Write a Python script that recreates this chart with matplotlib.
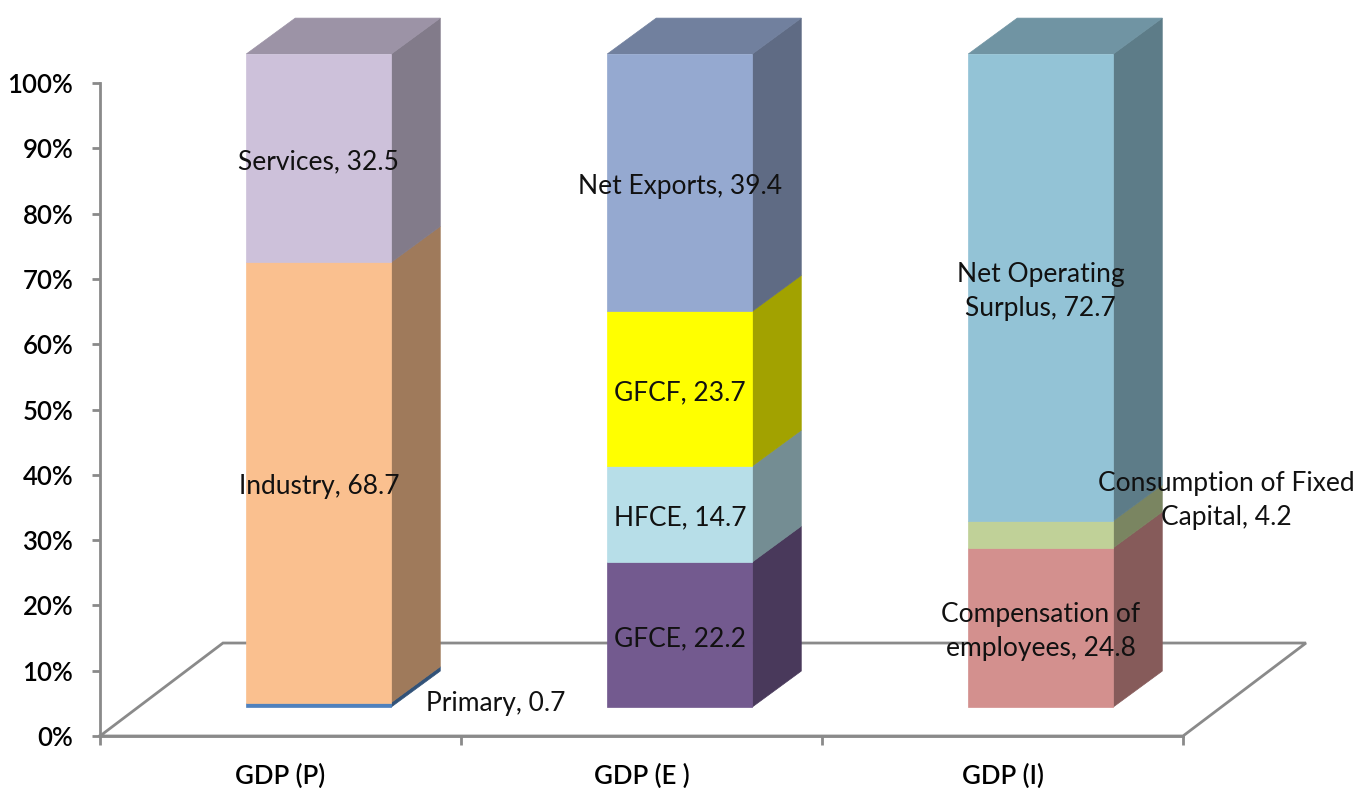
import matplotlib
matplotlib.use("Agg")
import matplotlib.pyplot as plt
from matplotlib.patches import Polygon
from matplotlib.colors import to_rgb
from matplotlib.ticker import FuncFormatter, FixedLocator

# ---------------- data ----------------
categories = ["GDP (P)", "GDP (E )", "GDP (I)"]

p_labels = ["Primary", "Industry", "Services"]
p_values = [0.7, 68.7, 32.5]
p_colors = ["#4F81BD", "#FAC08F", "#CDC1DA"]

e_labels = ["GFCE", "HFCE", "GFCF", "Net Exports"]
e_values = [22.2, 14.7, 23.7, 39.4]
e_colors = ["#735A8F", "#B7DEE8", "#FFFF00", "#95A9D0"]

i_labels = ["Compensation of\nemployees", "Consumption of Fixed\nCapital", "Net Operating\nSurplus"]
i_values = [24.8, 4.2, 72.7]
i_colors = ["#D3908E", "#C0D198", "#93C3D6"]

series_labels = [p_labels, e_labels, i_labels]
series_values = [p_values, e_values, i_values]
series_colors = [p_colors, e_colors, i_colors]

# label offsets in pixels for labels Excel moved off the bar
label_offsets = {("GDP (P)", "Primary"): (177, 5),
                 ("GDP (I)", "Consumption of Fixed\nCapital"): (186, 38)}

plt.rcParams['font.family'] = ['Lato', 'DejaVu Sans']

fig = plt.figure(figsize=(13.6, 7.88), dpi=100)
ax = fig.add_axes([100 / 1360, 52 / 788, 1083 / 1360, 653 / 788])
ax.set_xlim(-0.5, 2.5)
ax.set_ylim(0, 100)
ax.patch.set_visible(False)

grey = "#8A8A8A"
lw = 2.0

# 3-D pseudo projection parameters (in data units)
floor_dx, floor_dy = 0.3407, 14.24
front_dx, front_dy = 0.106, 4.44
depth_dx, depth_dy = 0.1357, 5.5
bar_w = 0.4017
side_f, top_f = 0.635, 0.76


def shade(c, f):
    r, g, b = to_rgb(c)
    return (r * f, g * f, b * f)


# floor outline
xs = [-0.5, 2.5, 2.5 + floor_dx, -0.5 + floor_dx, -0.5]
ys = [0, 0, floor_dy, floor_dy, 0]
ax.plot(xs, ys, color=grey, lw=lw, clip_on=False, zorder=1, solid_joinstyle='miter')

# spines / ticks
for s in ["top", "right"]:
    ax.spines[s].set_visible(False)
for s in ["left", "bottom"]:
    ax.spines[s].set_color(grey)
    ax.spines[s].set_linewidth(lw)

ax.yaxis.set_major_locator(FixedLocator(list(range(0, 101, 10))))
ax.yaxis.set_major_formatter(FuncFormatter(lambda v, p: f"{v:.0f}%"))
ax.tick_params(axis='y', which='major', direction='out', length=5.8, width=lw,
               color=grey, labelsize=18.5, labelcolor='black', pad=13.5)
for t in ax.get_yticklabels():
    t.set_fontweight('semibold')

ax.xaxis.set_major_locator(FixedLocator([0, 1, 2]))
ax.set_xticklabels(categories)
ax.xaxis.set_minor_locator(FixedLocator([-0.5, 0.5, 1.5, 2.5]))
ax.tick_params(axis='x', which='major', length=0, labelsize=18.5, labelcolor='black', pad=20)
ax.tick_params(axis='x', which='minor', direction='out', length=6.5, width=lw, color=grey)
for t in ax.get_xticklabels():
    t.set_fontweight('semibold')

# bars
for ci, cat in enumerate(categories):
    vals = series_values[ci]
    total = sum(vals)
    base = 0.0
    n = len(vals)
    for si, (lab, v, col) in enumerate(zip(series_labels[ci], vals, series_colors[ci])):
        h = v / total * 100.0
        x0 = ci - bar_w / 2 + front_dx
        x1 = ci + bar_w / 2 + front_dx
        y0 = base + front_dy
        y1 = base + h + front_dy
        front = [(x0, y0), (x1, y0), (x1, y1), (x0, y1)]
        side = [(x1, y0), (x1 + depth_dx, y0 + depth_dy), (x1 + depth_dx, y1 + depth_dy), (x1, y1)]
        ax.add_patch(Polygon(side, closed=True, facecolor=shade(col, side_f),
                             edgecolor=shade(col, side_f), lw=0.5, zorder=3, clip_on=False))
        ax.add_patch(Polygon(front, closed=True, facecolor=col, edgecolor=col,
                             lw=0.5, zorder=4, clip_on=False))
        if si == n - 1:
            top = [(x0, y1), (x1, y1), (x1 + depth_dx, y1 + depth_dy), (x0 + depth_dx, y1 + depth_dy)]
            ax.add_patch(Polygon(top, closed=True, facecolor=shade(col, top_f),
                                 edgecolor=shade(col, top_f), lw=0.5, zorder=3, clip_on=False))
        # data label
        ox, oy = label_offsets.get((cat, lab), (0, 0))
        ax.annotate(f"{lab}, {v}", xy=(ci + front_dx, base + h / 2 + front_dy),
                    xytext=(ox, oy - 4), textcoords='offset pixels',
                    ha='center', va='center', multialignment='center',
                    fontsize=19, color='#111111', linespacing=1.45,
                    zorder=10, annotation_clip=False)
        base += h

fig.savefig("out.png", dpi=100)
